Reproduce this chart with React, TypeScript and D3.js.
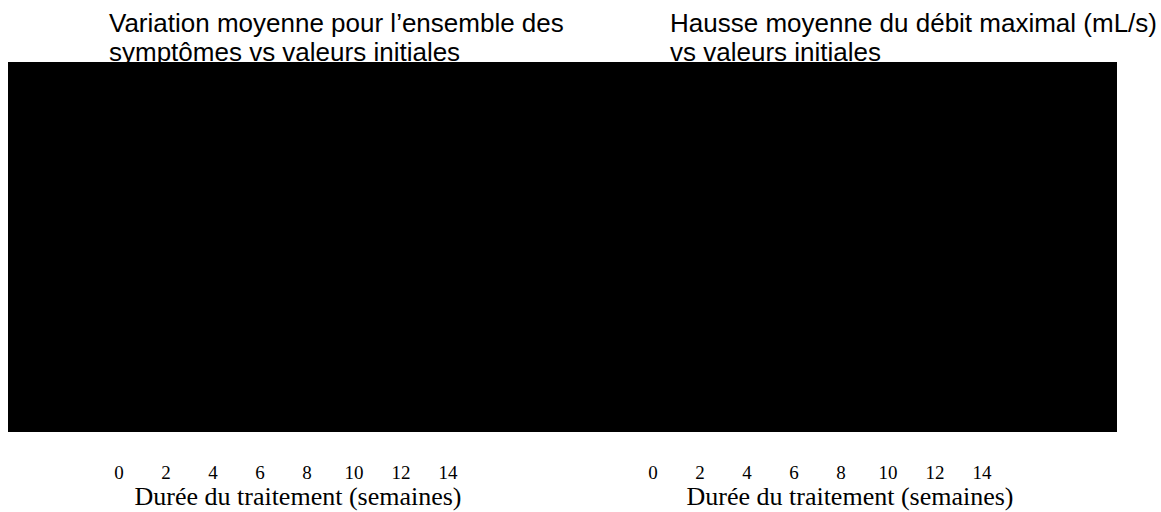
import React from "react";
import * as d3 from "d3";

const width = 1161;
const height = 512;

// two panels, titles on two lines each
const leftTitle = ["Variation moyenne pour l’ensemble des", "symptômes vs valeurs initiales"];
const rightTitle = ["Hausse moyenne du débit maximal (mL/s)", "vs valeurs initiales"];
const weekTicks = [0, 2, 4, 6, 8, 10, 12, 14];
const xLabel = "Durée du traitement (semaines)";

const panels = [
  { title: leftTitle, titleX: 109, range: [119, 448], labelX: 298 },
  { title: rightTitle, titleX: 670, range: [653, 982], labelX: 850 }
];

const plotBox = { x: 8, y: 62, width: 1109, height: 370 };

const Panel = ({ title, titleX, range, labelX }) => {
  const x = d3.scaleLinear().domain([0, 14]).range(range);
  return (
    <g>
      {title.map((line, i) => (
        <text
          key={i}
          x={titleX}
          y={32 + i * 29}
          fontFamily="Liberation Sans, Arial, sans-serif"
          fontSize={26}
          fill="#000"
        >
          {line}
        </text>
      ))}
      {weekTicks.map(t => (
        <text
          key={t}
          x={x(t)}
          y={479}
          textAnchor="middle"
          fontFamily="Liberation Serif, Times New Roman, serif"
          fontSize={19}
          fill="#000"
        >
          {t}
        </text>
      ))}
      <text
        x={labelX}
        y={505}
        textAnchor="middle"
        fontFamily="Liberation Serif, Times New Roman, serif"
        fontSize={26}
        fill="#000"
      >
        {xLabel}
      </text>
    </g>
  );
};

const App = () => {
  return (
    <svg
      width={width}
      height={height}
      style={{ position: "absolute", left: 0, top: 0, background: "#fff" }}
    >
      {panels.map((p, i) => (
        <Panel key={i} {...p} />
      ))}
      <rect x={plotBox.x} y={plotBox.y} width={plotBox.width} height={plotBox.height} fill="#000" />
    </svg>
  );
};

export default App;
